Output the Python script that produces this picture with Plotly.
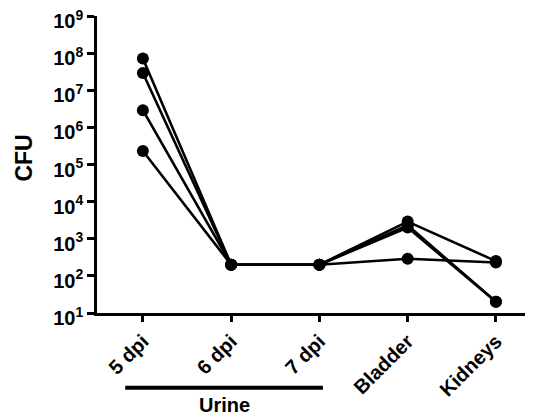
import plotly.graph_objects as go

categories = ["5 dpi", "6 dpi", "7 dpi", "Bladder", "Kidneys"]
mouse_a = [7.2e7, 200, 200, 2900, 250]
mouse_b = [2.9e7, 200, 200, 2300, 20]
mouse_c = [2.9e6, 200, 200, 2000, 20]
mouse_d = [2.3e5, 200, 200, 290, 230]
series = [mouse_a, mouse_b, mouse_c, mouse_d]
tick_exponents = [1, 2, 3, 4, 5, 6, 7, 8, 9]

FONT = "Liberation Sans, Arial, sans-serif"

fig = go.Figure()
xidx = list(range(len(categories)))
for s in series:
    fig.add_trace(go.Scatter(
        x=xidx, y=s, mode="lines+markers",
        line=dict(color="black", width=2.6),
        marker=dict(color="black", size=12),
        showlegend=False, cliponaxis=False,
    ))

fig.update_layout(
    width=525, height=407,
    margin=dict(l=89, r=0, t=8, b=102),
    plot_bgcolor="white", paper_bgcolor="white",
    font=dict(family=FONT, color="black", size=18),
)
fig.update_yaxes(
    type="log", range=[1, 9], automargin=False,
    tickvals=[10 ** e for e in tick_exponents],
    ticktext=[f"<b>10<sup>{e}</sup></b>" for e in tick_exponents],
    ticks="outside", ticklen=7, tickwidth=2.5, tickcolor="black",
    showline=True, linewidth=2.5, linecolor="black",
    showgrid=False, zeroline=False, ticklabeloverflow="allow",
    ticklabelshift=5,
    tickfont=dict(size=20, family=FONT),
)
fig.update_xaxes(
    range=[-0.52, 4.42], automargin=False,
    tickvals=xidx, ticktext=[f"<b>{c}</b>" for c in categories], tickangle=-45,
    ticks="outside", ticklen=6, tickwidth=2.5, tickcolor="black",
    showline=True, linewidth=2.5, linecolor="black",
    showgrid=False, zeroline=False, ticklabeloverflow="allow",
    tickfont=dict(size=20, family=FONT),
)
fig.add_annotation(text="<b>CFU</b>", xref="paper", yref="paper", x=(24 - 97) / 436, y=0.52,
                   textangle=-90, showarrow=False, xanchor="center", yanchor="middle",
                   font=dict(size=23, family=FONT))
fig.add_shape(type="line", xref="x", yref="paper", x0=-0.2, x1=2.04, y0=-0.2515, y1=-0.2515,
              line=dict(color="black", width=4))
fig.add_annotation(text="<b>Urine</b>", xref="x", yref="paper", x=0.92, y=-0.31, showarrow=False,
                   font=dict(size=20, family=FONT), yanchor="middle")

fig.write_html("out.html")
